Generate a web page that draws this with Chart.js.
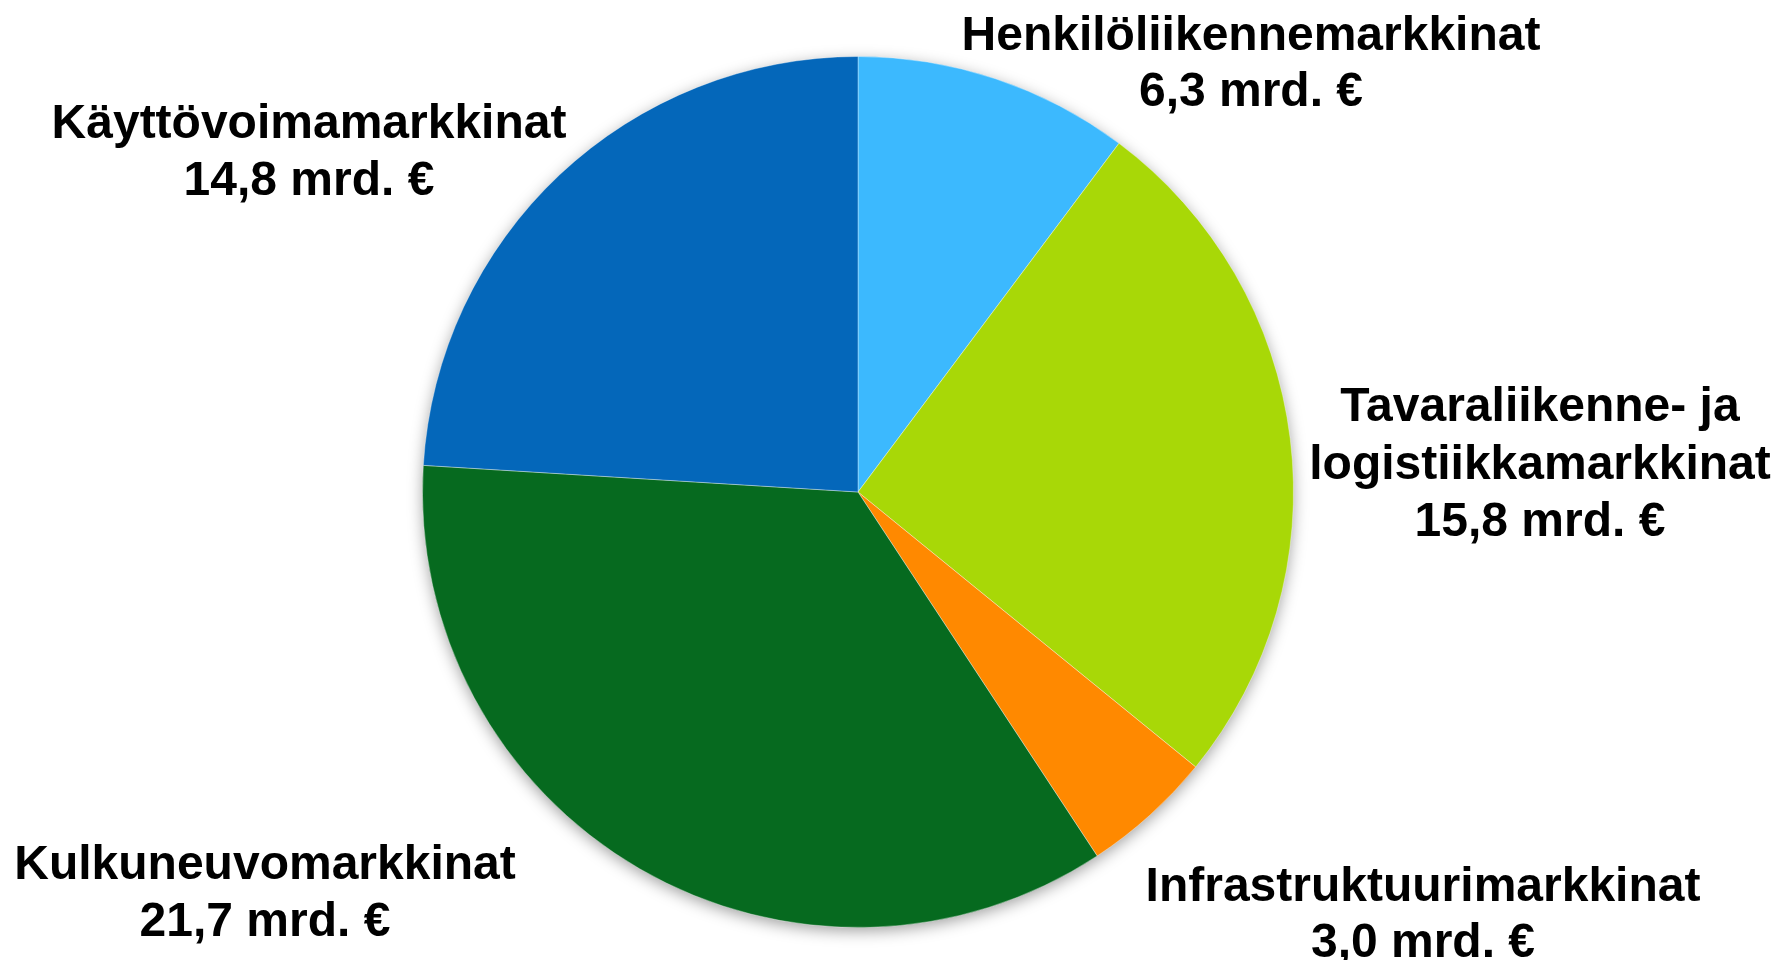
<!DOCTYPE html>
<html>
<head>
<meta charset="utf-8">
<script src="https://cdn.jsdelivr.net/npm/chart.js@4"></script>
<style>
  html, body { margin: 0; padding: 0; background: #ffffff; }
  #wrap { width: 1779px; height: 960px; position: relative; }
</style>
</head>
<body>
<div id="wrap"><canvas id="marketChart"></canvas></div>
<script>
// === DATA ===
const categories = [
    ["Henkilöliikennemarkkinat"],
    ["Tavaraliikenne- ja", "logistiikkamarkkinat"],
    ["Infrastruktuurimarkkinat"],
    ["Kulkuneuvomarkkinat"],
    ["Käyttövoimamarkkinat"],
];
const values = [6.3, 15.8, 3.0, 21.7, 14.8];
const unit = "mrd. €";
const sliceColors = ["#3cb9fe", "#a8d807", "#ff8900", "#066a1f", "#0467ba"];

// label placement (center x, first baseline, line step)
const labelSpots = [
    { x: 1251, y: 50, step: 56 },
    { x: 1540, y: 421, step: 57.5 },
    { x: 1423, y: 901, step: 56 },
    { x: 265, y: 879, step: 57 },
    { x: 309, y: 138, step: 57 },
];

const fmt = (v) => v.toFixed(1).replace(".", ",") + " " + unit;

// soft shadow under the pie
const pieShadow = {
    id: "pieShadow",
    beforeDatasetsDraw(chart) {
        const arc = chart.getDatasetMeta(0).data[0];
        if (!arc) return;
        const { ctx } = chart;
        ctx.save();
        ctx.shadowColor = "rgba(0,0,0,0.4)";
        ctx.shadowBlur = 16;
        ctx.shadowOffsetY = 4;
        ctx.fillStyle = "#ffffff";
        ctx.beginPath();
        ctx.arc(arc.x, arc.y, arc.outerRadius - 1, 0, Math.PI * 2);
        ctx.fill();
        ctx.restore();
    },
};

// outside labels
const outsideLabels = {
    id: "outsideLabels",
    afterDatasetsDraw(chart) {
        const { ctx } = chart;
        ctx.save();
        ctx.font = "bold 48px 'Liberation Sans', Arial, sans-serif";
        ctx.fillStyle = "#000000";
        ctx.textAlign = "center";
        ctx.textBaseline = "alphabetic";
        categories.forEach((lines, i) => {
            const spot = labelSpots[i];
            const all = lines.concat([fmt(values[i])]);
            all.forEach((t, j) => ctx.fillText(t, spot.x, spot.y + j * spot.step));
        });
        ctx.restore();
    },
};

const ctxPie = document.getElementById("marketChart").getContext("2d");
new Chart(ctxPie, {
    type: "pie",
    data: {
        labels: categories.map((l) => l.join(" ")),
        datasets: [
            {
                data: values,
                backgroundColor: sliceColors,
                borderColor: "rgba(255,255,255,0.35)",
                borderWidth: 1,
                hoverOffset: 0,
            },
        ],
    },
    options: {
        responsive: true,
        maintainAspectRatio: false,
        animation: false,
        layout: { padding: { left: 422, top: 56, right: 485, bottom: 32 } },
        plugins: {
            legend: { display: false },
            tooltip: { enabled: false },
        },
    },
    plugins: [pieShadow, outsideLabels],
});
</script>
</body>
</html>
